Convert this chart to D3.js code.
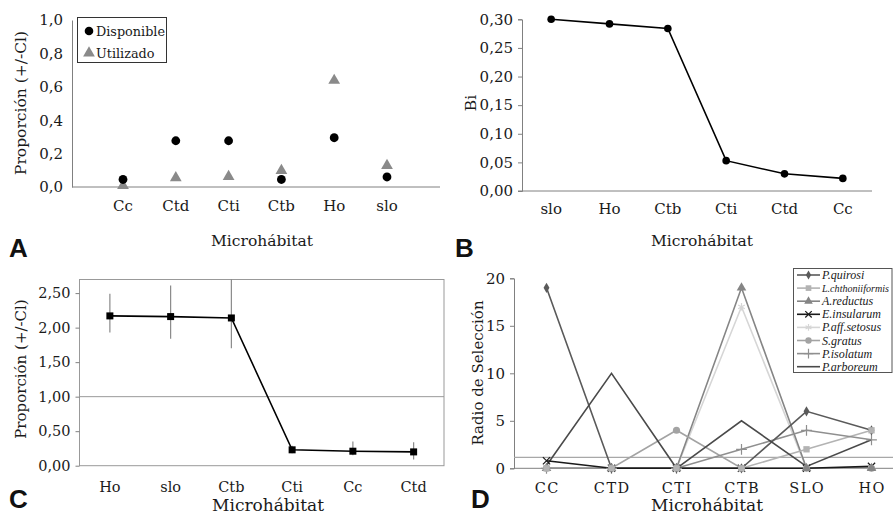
<!DOCTYPE html>
<html><head><meta charset="utf-8">
<script src="https://cdn.jsdelivr.net/npm/d3@7"></script>
<style>
body{margin:0;background:#fff;}
svg{display:block;}
text{font-family:"DejaVu Serif",serif;fill:#1a1a1a;}
.lab{font-family:"Liberation Sans",Arial,sans-serif;font-weight:bold;fill:#111;}
.leg{font-family:"Liberation Serif",serif;font-style:italic;}
</style></head>
<body>
<script>
// ---------- DATA ----------
const aCats = ["Cc","Ctd","Cti","Ctb","Ho","slo"];
const aDisponible = [0.045,0.277,0.277,0.045,0.295,0.060];
const aUtilizado = [0.008,0.055,0.062,0.098,0.638,0.128];
const aTicks = [0,0.2,0.4,0.6,0.8,1.0];

const bCats = ["slo","Ho","Ctb","Cti","Ctd","Cc"];
const bValues = [0.300,0.292,0.284,0.053,0.030,0.022];
const bTicks = [0,0.05,0.10,0.15,0.20,0.25,0.30];

const cCats = ["Ho","slo","Ctb","Cti","Cc","Ctd"];
const cValues = [2.17,2.16,2.14,0.23,0.21,0.20];
const cLower = [1.93,1.84,1.70,0.18,0.15,0.09];
const cUpper = [2.49,2.61,2.80,0.29,0.35,0.34];
const cTicks = [0,0.5,1.0,1.5,2.0,2.5];
const cRef = 1.0;

const dCats = ["CC","CTD","CTI","CTB","SLO","HO"];
const dNames = ["P.quirosi","L.chthoniiformis","A.reductus","E.insularum","P.aff.setosus","S.gratus","P.isolatum","P.arboreum"];
const dQuirosi = [19,0,0,0,6,4];
const dChthoniiformis = [0,0,0,0,2,4];
const dReductus = [0,0,0,19,0,0];
const dInsularum = [0.8,0,0,0,0,0.2];
const dSetosus = [0,0,0,17,0,0];
const dGratus = [0,0,4,0,0,0];
const dIsolatum = [0,0,0,2,4,3];
const dArboreum = [0.3,10,0,5,0.2,3];
const dTicks = [0,5,10,15,20];
const dRef = 1.16;

// ---------- SETUP ----------
const W=893,H=514;
const svg=d3.select("body").append("svg").attr("width",W).attr("height",H);
const fmt=(n)=>d=>d.toFixed(n).replace(".",",");
const axisCol="#808080";

function yAxis(g,scale,ticks,n,tick,size){
  const ax=d3.axisLeft(scale).tickValues(ticks).tickFormat(fmt(n)).tickSize(tick).tickPadding(tick?5:9);
  g.call(ax);
  g.select(".domain").attr("stroke",axisCol);
  g.selectAll(".tick line").attr("stroke",axisCol);
  g.selectAll("text").attr("font-size",size).attr("fill","#1a1a1a").attr("font-family","DejaVu Serif");
}
function xLabels(g,scale,cats,y,size,ls){
  g.selectAll("text.xl").data(cats).join("text").attr("class","xl")
   .attr("x",d=>scale(d)+(scale.bandwidth?scale.bandwidth()/2:0)+(ls?ls/2:0)).attr("y",y)
   .attr("text-anchor","middle").attr("font-size",size).attr("letter-spacing",ls||0).text(d=>d);
}

// ---------- PANEL A ----------
{
  const g=svg.append("g");
  const x=d3.scalePoint().domain(aCats).range([123,387]);
  const y=d3.scaleLinear().domain([0,1]).range([187,20]);
  const ya=g.append("g").attr("transform","translate(72,0)");
  yAxis(ya,y,aTicks,1,0,15);
  g.append("line").attr("x1",72).attr("x2",440).attr("y1",y(0)).attr("y2",y(0)).attr("stroke",axisCol);
  g.selectAll("path.tri").data(aCats).join("path")
    .attr("transform",(d,i)=>`translate(${x(d)},${y(aUtilizado[i])})`)
    .attr("d",d3.symbol(d3.symbolTriangle,60)).attr("fill","#8a8a8a");
  g.selectAll("circle.dp").data(aCats).join("circle")
    .attr("cx",d=>x(d)).attr("cy",(d,i)=>y(aDisponible[i])).attr("r",4.4).attr("fill","#000");
  xLabels(g,x,aCats,211,15);
  g.append("text").attr("x",262).attr("y",246).attr("text-anchor","middle").attr("font-size",15.5).text("Microhábitat");
  g.append("text").attr("transform","translate(26,103) rotate(-90)").attr("text-anchor","middle").attr("font-size",15.5).text("Proporción (+/-Cl)");
  // legend
  g.append("rect").attr("x",77.5).attr("y",17.5).attr("width",89).attr("height",45).attr("fill","#fff").attr("stroke","#333");
  g.append("circle").attr("cx",89).attr("cy",31).attr("r",4.3).attr("fill","#000");
  g.append("text").attr("x",96).attr("y",35.5).attr("font-size",12.8).text("Disponible");
  g.append("path").attr("transform","translate(89,53)").attr("d",d3.symbol(d3.symbolTriangle,60)).attr("fill","#8a8a8a");
  g.append("text").attr("x",96).attr("y",57.5).attr("font-size",12.8).text("Utilizado");
  g.append("text").attr("class","lab").attr("x",9).attr("y",257).attr("font-size",26).text("A");
}

// ---------- PANEL B ----------
{
  const g=svg.append("g");
  const x=d3.scaleBand().domain(bCats).range([522,872]);
  const y=d3.scaleLinear().domain([0,0.30]).range([191,19.3]);
  const ya=g.append("g").attr("transform","translate(522,0)");
  yAxis(ya,y,bTicks,2,4,15);
  g.append("line").attr("x1",518).attr("x2",872).attr("y1",y(0)).attr("y2",y(0)).attr("stroke",axisCol);
  const cx=d=>x(d)+x.bandwidth()/2;
  g.append("path").datum(bCats).attr("fill","none").attr("stroke","#000").attr("stroke-width",1.6)
    .attr("d",d3.line().x(d=>cx(d)).y((d,i)=>y(bValues[i])));
  g.selectAll("circle").data(bCats).join("circle").attr("cx",cx).attr("cy",(d,i)=>y(bValues[i])).attr("r",3.8).attr("fill","#000");
  xLabels(g,x,bCats,214,15);
  g.append("text").attr("x",702).attr("y",246).attr("text-anchor","middle").attr("font-size",15.5).text("Microhábitat");
  g.append("text").attr("transform","translate(476,103) rotate(-90)").attr("text-anchor","middle").attr("font-size",15.5).text("Bi");
  g.append("text").attr("class","lab").attr("x",455).attr("y",257).attr("font-size",26).text("B");
}

// ---------- PANEL C ----------
{
  const g=svg.append("g");
  const x=d3.scaleBand().domain(cCats).range([79.5,444]);
  const y=d3.scaleLinear().domain([0,2.7]).range([465.7,279.3]);
  const cx=d=>x(d)+x.bandwidth()/2;
  g.append("rect").attr("x",79.5).attr("y",279.5).attr("width",364.5).attr("height",186.2).attr("fill","none").attr("stroke","#999");
  const ya=g.append("g").attr("transform","translate(79.5,0)");
  yAxis(ya,y,cTicks,2,4,14.5);
  ya.select(".domain").remove();
  g.append("line").attr("x1",79.5).attr("x2",444).attr("y1",y(cRef)).attr("y2",y(cRef)).attr("stroke","#999");
  g.selectAll("line.err").data(cCats).join("line").attr("class","err")
    .attr("x1",cx).attr("x2",cx).attr("y1",(d,i)=>y(Math.min(cUpper[i],2.7))).attr("y2",(d,i)=>y(cLower[i]))
    .attr("stroke","#8a8a8a").attr("stroke-width",1.2);
  g.append("path").datum(cCats).attr("fill","none").attr("stroke","#000").attr("stroke-width",1.6)
    .attr("d",d3.line().x(d=>cx(d)).y((d,i)=>y(cValues[i])));
  g.selectAll("rect.pt").data(cCats).join("rect").attr("class","pt")
    .attr("x",d=>cx(d)-3.5).attr("y",(d,i)=>y(cValues[i])-3.5).attr("width",7).attr("height",7).attr("fill","#000");
  xLabels(g,x,cCats,492,14.5);
  g.append("text").attr("x",268).attr("y",511).attr("text-anchor","middle").attr("font-size",17).text("Microhábitat");
  g.append("text").attr("transform","translate(26,369) rotate(-90)").attr("text-anchor","middle").attr("font-size",15).text("Proporción (+/-Cl)");
  g.append("text").attr("class","lab").attr("x",9).attr("y",508).attr("font-size",26).text("C");
}

// ---------- PANEL D ----------
{
  const g=svg.append("g");
  const x=d3.scaleBand().domain(dCats).range([514,904]);
  const y=d3.scaleLinear().domain([0,20]).range([468.3,278.3]);
  const cx=d=>x(d)+x.bandwidth()/2;
  const ya=g.append("g").attr("transform","translate(514,0)");
  yAxis(ya,y,dTicks,0,4,15);
  g.append("line").attr("x1",514).attr("x2",893).attr("y1",y(0)).attr("y2",y(0)).attr("stroke",axisCol);
  g.append("line").attr("x1",514).attr("x2",893).attr("y1",y(dRef)).attr("y2",y(dRef)).attr("stroke","#a8a8a8").attr("stroke-width",1.3);
  const series=[dQuirosi,dChthoniiformis,dReductus,dInsularum,dSetosus,dGratus,dIsolatum,dArboreum];
  const colors=["#5a5a5a","#b3b3b3","#858585","#1a1a1a","#d6d6d6","#a3a3a3","#8f8f8f","#4a4a4a"];
  const syms=[d3.symbolDiamond,d3.symbolSquare,d3.symbolTriangle,d3.symbolX,d3.symbolAsterisk,d3.symbolCircle,d3.symbolPlus,null];
  const symSize=[30,40,40,36,40,40,40,0];
  const stroked=[false,false,false,true,true,false,true,false];
  const lineOrder=[4,2,5,1,6,0,7,3];
  lineOrder.forEach(k=>{
    const vals=series[k];
    g.append("path").datum(dCats).attr("fill","none").attr("stroke",colors[k]).attr("stroke-width",1.6)
      .attr("d",d3.line().x(d=>cx(d)).y((d,i)=>y(vals[i])));
  });
  const markOrder=[3,4,6,5,0,2,1];
  markOrder.forEach(k=>{
    const vals=series[k];
    g.selectAll(null).data(dCats).join("path")
      .attr("transform",(d,i)=>`translate(${cx(d)},${y(vals[i])})`)
      .attr("d",d3.symbol(syms[k],symSize[k]))
      .attr("fill",stroked[k]?"none":colors[k]).attr("stroke",stroked[k]?colors[k]:"none").attr("stroke-width",1.2);
  });
  xLabels(g,x,dCats,493,14.5,1.5);
  g.append("text").attr("x",707).attr("y",511).attr("text-anchor","middle").attr("font-size",17).text("Microhábitat");
  g.append("text").attr("transform","translate(483,373) rotate(-90)").attr("text-anchor","middle").attr("font-size",15).text("Radio de Selección");
  g.append("text").attr("class","lab").attr("x",471).attr("y",508).attr("font-size",26).text("D");
  // legend
  const lg=g.append("g");
  lg.append("rect").attr("x",793.5).attr("y",268.5).attr("width",98.5).attr("height",104).attr("fill","#fff").attr("stroke","#555");
  dNames.forEach((nm,k)=>{
    const yy=275+k*13.1;
    lg.append("line").attr("x1",797).attr("x2",820).attr("y1",yy).attr("y2",yy).attr("stroke",colors[k]).attr("stroke-width",1.6);
    if(syms[k]) lg.append("path").attr("transform",`translate(808.5,${yy})`).attr("d",d3.symbol(syms[k],symSize[k]*0.8))
      .attr("fill",stroked[k]?"none":colors[k]).attr("stroke",stroked[k]?colors[k]:"none").attr("stroke-width",1.2);
    const t=lg.append("text").attr("class","leg").attr("x",822).attr("y",yy+4).attr("font-size",12).text(nm);
    const len=t.node().getComputedTextLength();
    if(len>67) t.attr("font-size",12*67/len);
  });
}
</script>
</body></html>
